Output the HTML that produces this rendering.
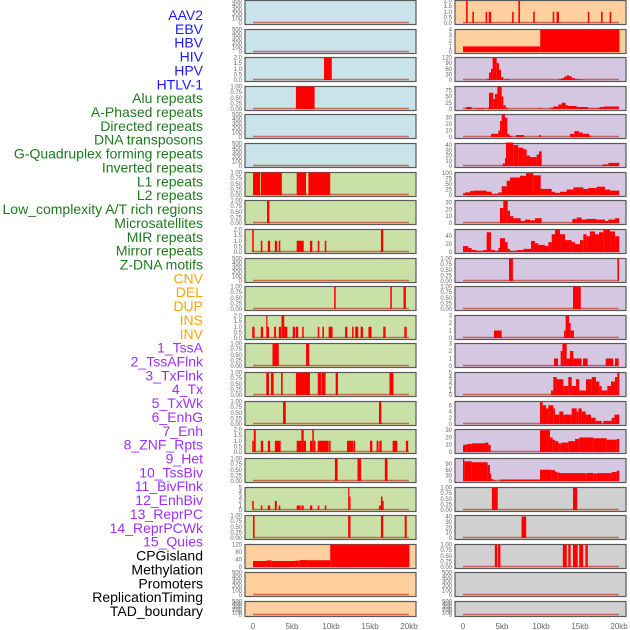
<!DOCTYPE html>
<html><head><meta charset="utf-8"><style>
html,body{margin:0;padding:0;background:#fff;}
svg{display:block;font-family:"Liberation Sans",sans-serif;}
</style></head><body>
<svg id="chart" width="630" height="630" viewBox="0 0 630 630" xmlns="http://www.w3.org/2000/svg"></svg>
<script>
const labels = ["AAV2","EBV","HBV","HIV","HPV","HTLV-1","Alu repeats","A-Phased repeats","Directed repeats","DNA transposons","G-Quadruplex forming repeats","Inverted repeats","L1 repeats","L2 repeats","Low_complexity A/T rich regions","Microsatellites","MIR repeats","Mirror repeats","Z-DNA motifs","CNV","DEL","DUP","INS","INV","1_TssA","2_TssAFlnk","3_TxFlnk","4_Tx","5_TxWk","6_EnhG","7_Enh","8_ZNF_Rpts","9_Het","10_TssBiv","11_BivFlnk","12_EnhBiv","13_ReprPC","14_ReprPCWk","15_Quies","CPGisland","Methylation","Promoters","ReplicationTiming","TAD_boundary"];
const labelColors = ["#1a1aff","#1a1aff","#1a1aff","#1a1aff","#1a1aff","#1a1aff","#1e7a1e","#1e7a1e","#1e7a1e","#1e7a1e","#1e7a1e","#1e7a1e","#1e7a1e","#1e7a1e","#1e7a1e","#1e7a1e","#1e7a1e","#1e7a1e","#1e7a1e","#ffa500","#ffa500","#ffa500","#ffa500","#ffa500","#9b30ff","#9b30ff","#9b30ff","#9b30ff","#9b30ff","#9b30ff","#9b30ff","#9b30ff","#9b30ff","#9b30ff","#9b30ff","#9b30ff","#9b30ff","#9b30ff","#9b30ff","#000","#000","#000","#000","#000"];
const xTicks = [0,5,10,15,20];
const xTickLabels = ["0","5kb","10kb","15kb","20kb"];
const T500=[0,100,200,300,400,500], T1=[0,0.25,0.5,0.75,1], T2=[0,0.5,1,1.5,2];
const T1L=["0.00","0.25","0.50","0.75","1.00"], T2L=["0.0","0.5","1.0","1.5","2.0"];
// left column panels: [background, ymax, ticks, tickLabels, bars]
const leftPanels = [
 ["blue",500,T500,null,[]],
 ["blue",500,T500,null,[]],
 ["blue",2,T2,T2L,[[9.1,10.1,2]]],
 ["blue",1,T1,T1L,[[5.5,7.9,1]]],
 ["blue",500,T500,null,[]],
 ["blue",500,T500,null,[]],
 ["green",1,T1,T1L,[[0,0.9,1],[1.0,3.7,1],[5.6,6.8,1],[7.1,9.9,1]]],
 ["green",1,T1,T1L,[[1.8,2.1,1]]],
 ["green",2,T2,T2L,[[-0.1,0.1,2],[1.0,1.2,1],[1.9,2.2,1],[2.8,3.1,1],[3.3,3.5,1],[5.6,6.5,1],[7.3,7.6,1],[8.3,8.5,1],[9.2,9.4,1],[16.4,16.7,2]]],
 ["green",500,T500,null,[]],
 ["green",1,T1,T1L,[[10.4,10.6,1],[17.6,17.8,1],[19.3,19.6,1]]],
 ["green",2,T2,T2L,[[-0.1,0.2,1],[1.0,1.3,1],[1.7,1.85,2],[1.85,2.05,1],[2.7,2.95,1],[3.3,3.6,1],[3.65,4.0,2],[4.0,4.4,1],[5.1,5.4,1],[5.5,5.8,1],[6.3,6.5,1],[8.3,8.5,1],[8.9,9.1,1],[9.7,10.2,1],[11.8,12.1,1],[12.7,12.9,1],[13.1,13.5,1],[13.8,14.1,1],[14.8,15.2,1],[16.7,17.0,1],[19.4,19.7,1]]],
 ["green",1,T1,T1L,[[2.5,3.3,1],[6.8,7.2,1]]],
 ["green",1,T1,T1L,[[1.7,2.05,1],[2.3,2.65,1],[3.6,3.8,1],[5.5,7.3,1],[8.3,8.75,1],[8.8,9.3,1],[10.6,10.9,1],[17.5,18.0,1]]],
 ["green",1,T1,T1L,[[3.85,4.2,1],[16.15,16.45,1]]],
 ["green",2,T2,T2L,[[-0.1,0.1,1],[0.1,0.35,2],[1.0,1.3,1],[1.9,2.2,1],[2.8,3.55,1],[5.6,6.2,1],[6.2,6.5,2],[6.5,6.8,1],[7.3,7.6,1],[7.6,7.8,2],[7.8,8.0,1],[8.3,9.7,1],[9.75,9.95,1],[12.05,12.85,1],[12.9,13.1,1],[15.0,15.3,1],[15.85,16.1,1],[16.2,16.5,1],[17.9,18.5,1],[19.6,19.9,1]]],
 ["green",1,T1,T1L,[[10.5,10.85,1],[13.4,13.85,1],[16.9,17.25,1]]],
 ["green",5,[0,1,2,3,4,5],null,[[-0.1,0.1,2],[1.0,1.2,1],[1.9,2.2,1],[2.8,3.05,2],[3.3,3.5,1],[5.6,6.1,1],[6.2,6.5,1],[7.3,7.6,1],[8.3,8.5,1],[9.2,9.4,1],[12.2,12.35,5],[12.35,12.5,3],[16.15,16.4,1],[16.4,16.6,3],[16.6,16.7,2]]],
 ["green",1,T1,T1L,[[0,0.2,1],[12.2,12.5,1],[16.4,16.7,1],[19.45,19.7,1]]],
 ["peach",120,[0,40,80,120],null,[[0,1.75,32],[1.75,2.4,35],[2.4,5.4,32],[5.4,6.0,34],[6.0,6.8,37],[6.8,9.9,36],[9.9,20.05,120]]],
 ["peach",500,T500,null,[]],
 ["peach",500,T500,null,[]]
];
const rightPanels = [
 ["peach",2,T2,T2L,[[0.4,0.6,2],[1.2,1.4,1],[2.9,3.1,1],[3.3,3.6,1],[6.3,6.5,1],[7.1,7.3,2],[9.0,9.2,1],[11.5,11.7,1],[12.0,12.3,1],[16.0,16.2,1],[17.7,17.9,1],[18.8,19.0,1]]],
 ["peach",4,[0,1,2,3,4],null,[[0,9.9,1],[9.9,20.05,4]]],
 ["purple",120,[0,30,60,90,120],null,[[3.08,3.33,5],[3.33,3.59,40],[3.59,3.8,60],[3.8,4.32,120],[4.32,4.62,90],[4.62,4.87,55],[4.87,5.17,15],[5.17,6.03,3],[12.31,12.65,5],[12.65,12.95,10],[12.95,13.29,18],[13.29,13.59,25],[13.59,13.93,20],[13.93,14.36,10],[14.36,15.34,3]]],
 ["purple",90,[0,25,50,75],null,[[0.38,1.11,8],[1.54,2.82,3],[3.12,3.33,5],[3.33,3.89,65],[3.89,4.1,40],[4.1,4.4,60],[4.4,4.96,90],[4.96,5.17,50],[5.17,5.47,15],[5.47,5.73,5],[9.74,10.09,3],[11.15,11.58,5],[11.58,12.22,10],[12.22,12.65,18],[12.65,13.16,25],[13.16,13.5,15],[13.5,14.57,12],[14.57,16.07,8],[16.28,16.92,3],[17.14,17.56,5],[17.56,18.08,8],[18.08,20.0,10]]],
 ["purple",35,[0,10,20,30],null,[[3.59,4.53,5],[4.53,4.74,10],[4.74,4.96,25],[4.96,5.38,35],[5.38,5.68,30],[5.68,5.94,5],[5.94,6.24,2],[6.79,7.82,3],[9.74,10.0,3],[13.72,14.27,5],[14.27,14.91,9],[14.91,15.34,7],[15.34,16.2,5],[16.2,16.41,2]]],
 ["purple",43,[0,10,20,30,40],null,[[5.09,5.38,5],[5.38,5.51,15],[5.51,6.45,45],[6.45,7.09,40],[7.09,7.74,35],[7.74,8.16,32],[8.16,8.59,20],[8.59,9.44,17],[9.44,9.74,22],[9.74,10.09,28],[17.9,18.63,3],[18.63,20.04,6]]],
 ["purple",103,[0,25,50,75,100],null,[[0,0.26,8],[0.26,0.9,12],[0.9,1.32,18],[1.32,3.03,20],[3.03,3.68,15],[3.68,4.53,5],[4.53,4.96,12],[4.96,5.6,40],[5.6,6.03,65],[6.03,7.31,80],[7.31,8.08,88],[8.08,9.02,100],[9.02,9.96,90],[9.96,11.37,28],[11.37,11.79,15],[11.79,12.44,10],[12.44,13.29,15],[13.29,14.15,25],[14.15,15.43,35],[15.43,16.07,28],[16.07,17.14,32],[17.14,18.21,38],[18.21,18.85,25],[18.85,20.04,20]]],
 ["purple",33,[0,10,20,30],null,[[4.74,5.17,22],[5.17,5.73,33],[5.73,6.03,18],[6.03,6.45,10],[6.45,7.39,7],[7.39,7.95,3],[7.95,8.59,5],[8.59,9.23,4],[9.23,10.09,7],[14.02,14.57,6],[14.57,15.21,8],[15.21,15.85,5],[15.85,17.14,6],[17.14,18.21,5],[18.21,18.63,3],[18.63,19.49,5],[19.49,20.04,7]]],
 ["purple",57,[0,20,40],null,[[0,0.68,15],[0.68,1.11,10],[1.11,1.75,5],[1.75,2.61,3],[2.61,3.03,5],[3.03,3.59,50],[3.59,4.1,5],[4.1,4.53,3],[4.53,4.74,10],[4.74,5.38,35],[5.38,5.73,25],[5.73,6.03,8],[6.03,6.88,3],[6.88,7.74,5],[7.74,8.72,8],[8.72,9.23,28],[9.23,9.66,22],[9.66,10.51,18],[10.51,10.94,15],[10.94,11.37,25],[11.37,11.79,45],[11.79,12.44,57],[12.44,13.08,45],[13.08,13.93,30],[13.93,14.36,25],[14.36,15.0,20],[15.0,15.43,30],[15.43,15.85,45],[15.85,16.28,40],[16.28,16.92,52],[16.92,17.44,45],[17.44,17.99,50],[17.99,18.85,57],[18.85,19.49,52],[19.49,20.04,40]]],
 ["purple",1,T1,T1L,[[5.9,6.4,1],[19.8,20.0,1]]],
 ["purple",1,T1,T1L,[[14.1,15.1,1]]],
 ["purple",3,[0,1,2,3],null,[[3.97,4.96,1],[12.95,13.16,1],[13.16,13.59,3],[13.59,13.8,2],[13.8,14.23,1]]],
 ["purple",3,[0,1,2,3],null,[[11.67,12.18,1],[12.52,12.74,2],[12.74,13.29,3],[13.29,13.72,1],[13.72,14.15,2],[14.15,15.21,1],[15.38,15.98,1],[18.29,19.27,1],[19.49,19.96,1]]],
 ["purple",5,[0,1,2,3,4,5],null,[[11.28,11.58,1],[11.58,12.01,4],[12.01,12.86,3.5],[12.86,13.5,2],[13.5,13.93,4],[13.93,14.49,2],[14.49,14.91,3.5],[14.91,15.77,1],[15.77,16.5,3.5],[16.5,17.05,4],[17.05,17.48,3],[17.48,17.78,2],[17.78,18.5,1],[18.5,18.97,2],[18.97,19.49,3],[19.49,19.79,4],[19.79,20.04,5]]],
 ["purple",7.2,[0,2,4,6],null,[[9.87,10.21,7],[10.21,10.64,6],[10.64,10.94,5],[10.94,11.58,6],[11.58,11.79,5],[11.79,12.35,3],[12.35,12.86,4],[12.86,13.93,3],[13.93,14.57,5],[14.57,14.79,4],[14.79,15.21,5],[15.21,15.73,4],[15.73,16.41,3],[16.41,17.01,2],[17.01,17.78,1],[17.99,19.06,1],[19.06,19.4,2],[19.4,20.04,3]]],
 ["purple",31,[0,10,20,30],null,[[0,0.04,8],[0.04,0.47,10],[0.47,1.11,11],[1.11,2.82,12],[2.82,3.25,13],[3.25,3.55,10],[9.87,11.15,30],[11.15,11.5,20],[11.5,11.79,17],[11.79,12.22,15],[12.22,12.65,12],[12.65,13.5,13],[13.5,14.36,15],[14.36,14.91,18],[14.91,16.71,20],[16.71,18.42,19],[18.42,19.7,17],[19.7,20.04,18]]],
 ["purple",120,[0,30,60,90],null,[[0,0.17,120],[0.17,1.11,105],[1.11,3.16,100],[3.16,3.46,85],[3.46,3.59,40],[3.59,3.89,10],[3.89,4.23,3],[4.74,9.87,8],[9.87,11.37,60],[11.37,11.79,58],[11.79,12.09,50],[12.09,12.44,45],[12.44,15.64,42],[15.64,15.85,40],[15.85,16.71,43],[16.71,17.14,40],[17.14,19.06,42],[19.06,19.7,48],[19.7,20.04,55]]],
 ["gray",1,T1,T1L,[[3.7,4.45,1],[14.1,14.65,1]]],
 ["gray",42,[0,10,20,30,40],null,[[7.5,8.1,40]]],
 ["gray",1,T1,T1L,[[4.08,4.4,1],[4.5,4.8,1],[12.8,13.3,1],[13.5,13.8,1],[14.1,14.7,1],[14.9,15.4,1],[15.7,16.0,1]]],
 ["gray",500,T500,null,[]],
 ["gray",500,T500,null,[]]
];
const bgColors = {blue:"#c8e3ea",green:"#c9e1a6",peach:"#ffd09e",purple:"#d5c6e2",gray:"#d0d0d0"};
const NS="http://www.w3.org/2000/svg";
const svg=document.getElementById("chart");
function mk(tag,attrs,parent){const e=document.createElementNS(NS,tag);for(const k in attrs)e.setAttribute(k,attrs[k]);(parent||svg).appendChild(e);return e;}
const rowTop=i=>Math.round(i*28.62);
const rowH=i=>i===21?16:25;
const colX=[245,455], colW=171;
const xScale=(c,kb)=>colX[c]+8+kb*7.8;
function drawPanel(c,i,p){
  const [bg,ymax,ticks,tl,bars]=p;
  const top=rowTop(i),h=rowH(i);
  const zero=top+h-2, ytop=top+0.5;
  const yScale=v=>zero-(v/ymax)*(zero-ytop);
  const g=mk("g",{});
  
  
  const r=mk("rect",{x:colX[c],y:top+0.5,width:colW,height:h-1,fill:bgColors[bg],stroke:"#5a5a5a","stroke-width":1.2},g);
  
  
  const base=mk("line",{x1:xScale(c,0),x2:xScale(c,20),y1:zero-0.5,y2:zero-0.5,stroke:"#c0392b","stroke-opacity":0.7,"stroke-width":1.5},g);
  
  
  bars.forEach(b=>{
    const x0=xScale(c,b[0]),x1=xScale(c,b[1]),y=yScale(b[2]);
    const br=mk("rect",{x:x0,y:y,width:Math.max(1.2,x1-x0),height:zero-y,fill:"#ff0000"},g);
    
    
  });
  ticks.forEach((t,k)=>{
    const tx=mk("text",{x:colX[c]-3,y:yScale(t)+2,"text-anchor":"end","font-size":6,fill:"#666"},g);
    
    
    tx.textContent=tl?tl[k]:String(t);
  });
}
leftPanels.forEach((p,i)=>drawPanel(0,i,p));
rightPanels.forEach((p,i)=>drawPanel(1,i,p));
labels.forEach((l,i)=>{
  const t=mk("text",{x:203,y:15+i*13.86+5,"text-anchor":"end","font-size":14,fill:labelColors[i]});
  
  
  t.textContent=l;
});
[0,1].forEach(c=>{
  xTicks.forEach((v,k)=>{
    const t=mk("text",{x:xScale(c,v),y:629,"text-anchor":"middle","font-size":8,fill:"#666"});
    
    
    t.textContent=xTickLabels[k];
  });
});
</script>
</body></html>
